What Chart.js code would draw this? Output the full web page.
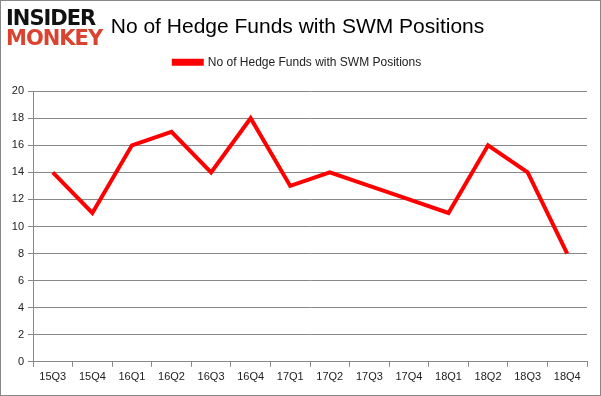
<!DOCTYPE html>
<html lang="en">
<head>
    <meta charset="UTF-8">
    <title>No of Hedge Funds with SWM Positions</title>
    <script src="https://cdn.jsdelivr.net/npm/chart.js"></script>
    <style>
        body { margin: 0; background: #fff; }
        .wrap { position: relative; width: 601px; height: 396px; }
        .frame { position: absolute; left: 0; top: 0; width: 599px; height: 394px; border: 1px solid #888; pointer-events: none; }
        canvas { position: absolute; left: 0; top: 0; }
        .logo { position: absolute; left: 4px; top: 6px; background: #fff; padding: 2px 2px 0 2px;
                font-family: "DejaVu Sans", sans-serif; font-weight: bold; font-size: 21px; line-height: 20px; letter-spacing: -1px; }
        .logo .a { color: #111; }
        .logo .b { color: #d9432f; }
    </style>
</head>
<body>
    <div class="wrap">
        <canvas id="chart" width="601" height="396"></canvas>
        <div class="frame"></div>
        <div class="logo"><div class="a">INSIDER</div><div class="b">MONKEY</div></div>
    </div>

    <script>
        const quarters = ['15Q3', '15Q4', '16Q1', '16Q2', '16Q3', '16Q4', '17Q1', '17Q2', '17Q3', '17Q4', '18Q1', '18Q2', '18Q3', '18Q4'];
        const hedgeFunds = [14, 11, 16, 17, 14, 18, 13, 14, 13, 12, 11, 16, 14, 8];
        const seriesName = 'No of Hedge Funds with SWM Positions';

        // extra space under the legend
        const legendGap = {
            id: 'legendGap',
            beforeInit(chart) {
                const fit = chart.legend.fit;
                chart.legend.fit = function () {
                    fit.bind(chart.legend)();
                    this.height += 13;
                };
            }
        };

        new Chart(document.getElementById('chart'), {
            type: 'line',
            data: {
                labels: quarters,
                datasets: [{
                    label: seriesName,
                    data: hedgeFunds,
                    borderColor: '#ff0000',
                    backgroundColor: '#ff0000',
                    borderWidth: 4,
                    pointRadius: 0,
                    tension: 0
                }]
            },
            options: {
                responsive: false,
                animation: false,
                layout: { padding: { left: 8, right: 14, top: 8, bottom: 8 } },
                plugins: {
                    title: {
                        display: true,
                        text: 'No of Hedge Funds with SWM Positions',
                        font: { family: 'Liberation Sans', size: 21, weight: 'normal' },
                        color: '#000',
                        padding: { top: 7, bottom: 6 }
                    },
                    legend: {
                        labels: {
                            boxWidth: 28,
                            boxHeight: 3,
                            font: { family: 'Liberation Sans', size: 12 },
                            color: '#222',
                            padding: 10
                        }
                    },
                    tooltip: { enabled: false }
                },
                scales: {
                    x: {
                        offset: true,
                        grid: { offset: true, drawOnChartArea: false, drawTicks: true, tickLength: 5, color: '#888' },
                        border: { color: '#888' },
                        ticks: { font: { family: 'Liberation Sans', size: 11 }, color: '#222', maxRotation: 0, autoSkip: false, padding: 4 }
                    },
                    y: {
                        min: 0,
                        max: 20,
                        afterFit: (s) => { s.width = 25; },
                        grid: { color: '#888', tickLength: 5 },
                        border: { color: '#888' },
                        ticks: { stepSize: 2, font: { family: 'Liberation Sans', size: 11 }, color: '#222', padding: 4 }
                    }
                }
            },
            plugins: [legendGap]
        });
    </script>
</body>
</html>
